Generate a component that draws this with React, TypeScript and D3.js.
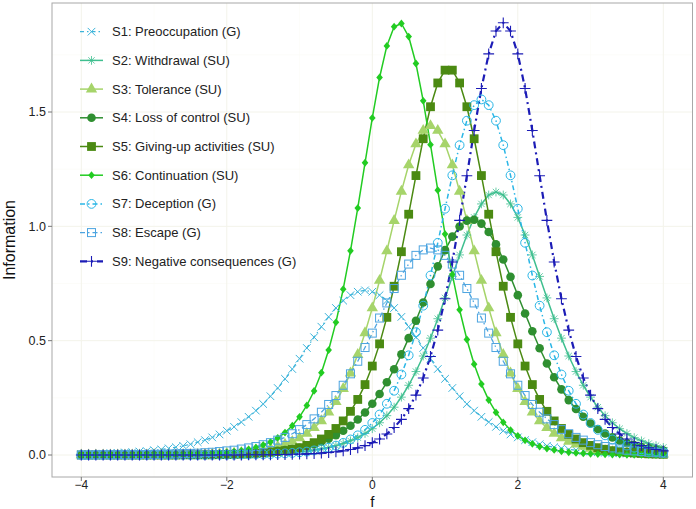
import React from "react";
import * as d3 from "d3";

// theta grid: -4.0 .. 4.0 step 0.1 (81 points)
const theta = d3.range(81).map((i) => +(-4 + i * 0.1).toFixed(1));

const seriesNames = [
  "S1: Preoccupation (G)",
  "S2: Withdrawal (SU)",
  "S3: Tolerance (SU)",
  "S4: Loss of control (SU)",
  "S5: Giving-up activities (SU)",
  "S6: Continuation (SU)",
  "S7: Deception (G)",
  "S8: Escape (G)",
  "S9: Negative consequences (G)",
];

const s1 = [
  0.004, 0.005, 0.005, 0.006, 0.008, 0.009, 0.011, 0.012, 0.015, 0.017,
  0.021, 0.024, 0.029, 0.034, 0.040, 0.047, 0.056, 0.065, 0.077, 0.090,
  0.106, 0.123, 0.144, 0.167, 0.194, 0.223, 0.257, 0.293, 0.333, 0.376,
  0.421, 0.468, 0.515, 0.561, 0.604, 0.643, 0.675, 0.699, 0.714, 0.720,
  0.714, 0.699, 0.675, 0.643, 0.604, 0.561, 0.515, 0.468, 0.421, 0.376,
  0.333, 0.293, 0.257, 0.223, 0.194, 0.167, 0.144, 0.123, 0.106, 0.090,
  0.077, 0.065, 0.056, 0.047, 0.040, 0.034, 0.029, 0.024, 0.021, 0.017,
  0.015, 0.012, 0.011, 0.009, 0.008, 0.006, 0.005, 0.005, 0.004, 0.003,
  0.003,
];
const s2 = [
  0, 0, 0, 0, 0, 0, 0, 0, 0, 0,
  0, 0, 0, 0, 0.001, 0.001, 0.001, 0.001, 0.001, 0.001,
  0.002, 0.002, 0.003, 0.003, 0.004, 0.005, 0.006, 0.007, 0.009, 0.011,
  0.014, 0.017, 0.022, 0.027, 0.033, 0.041, 0.050, 0.062, 0.076, 0.094,
  0.115, 0.141, 0.172, 0.209, 0.253, 0.305, 0.365, 0.433, 0.511, 0.596,
  0.687, 0.781, 0.875, 0.962, 1.039, 1.098, 1.137, 1.150, 1.137, 1.098,
  1.039, 0.962, 0.875, 0.781, 0.687, 0.596, 0.511, 0.433, 0.365, 0.305,
  0.253, 0.209, 0.172, 0.141, 0.115, 0.094, 0.076, 0.062, 0.050, 0.041,
  0.033,
];
const s3 = [
  0, 0, 0, 0, 0, 0, 0, 0, 0, 0,
  0.001, 0.001, 0.001, 0.001, 0.002, 0.002, 0.003, 0.003, 0.004, 0.005,
  0.007, 0.009, 0.011, 0.014, 0.018, 0.023, 0.029, 0.037, 0.047, 0.059,
  0.075, 0.094, 0.119, 0.149, 0.187, 0.233, 0.290, 0.358, 0.439, 0.534,
  0.643, 0.763, 0.892, 1.025, 1.153, 1.268, 1.360, 1.419, 1.440, 1.419,
  1.360, 1.268, 1.153, 1.025, 0.892, 0.763, 0.643, 0.534, 0.439, 0.358,
  0.290, 0.233, 0.187, 0.149, 0.119, 0.094, 0.075, 0.059, 0.047, 0.037,
  0.029, 0.023, 0.018, 0.014, 0.011, 0.009, 0.007, 0.005, 0.004, 0.003,
  0.003,
];
const s4 = [
  0, 0, 0, 0, 0, 0, 0, 0, 0, 0,
  0.001, 0.001, 0.001, 0.001, 0.001, 0.002, 0.002, 0.002, 0.003, 0.003,
  0.004, 0.005, 0.006, 0.008, 0.010, 0.012, 0.014, 0.018, 0.022, 0.026,
  0.032, 0.039, 0.048, 0.059, 0.071, 0.087, 0.106, 0.128, 0.155, 0.186,
  0.224, 0.267, 0.318, 0.375, 0.440, 0.511, 0.587, 0.667, 0.748, 0.825,
  0.896, 0.955, 0.999, 1.025, 1.029, 1.012, 0.975, 0.921, 0.855, 0.779,
  0.699, 0.619, 0.541, 0.467, 0.400, 0.340, 0.287, 0.240, 0.201, 0.167,
  0.138, 0.114, 0.094, 0.077, 0.063, 0.052, 0.043, 0.035, 0.029, 0.023,
  0.019,
];
const s5 = [
  0, 0, 0, 0, 0, 0, 0, 0, 0, 0,
  0, 0, 0, 0, 0.001, 0.001, 0.001, 0.001, 0.001, 0.002,
  0.002, 0.003, 0.004, 0.005, 0.007, 0.009, 0.012, 0.015, 0.019, 0.025,
  0.032, 0.042, 0.054, 0.070, 0.090, 0.116, 0.149, 0.191, 0.243, 0.308,
  0.389, 0.486, 0.602, 0.738, 0.889, 1.053, 1.222, 1.383, 1.523, 1.627,
  1.683, 1.683, 1.627, 1.523, 1.383, 1.222, 1.053, 0.889, 0.738, 0.602,
  0.486, 0.389, 0.308, 0.243, 0.191, 0.149, 0.116, 0.090, 0.070, 0.054,
  0.042, 0.032, 0.025, 0.019, 0.015, 0.012, 0.009, 0.007, 0.005, 0.004,
  0.003,
];
const s6 = [
  0, 0, 0, 0, 0, 0, 0, 0, 0, 0.001,
  0.001, 0.001, 0.001, 0.002, 0.002, 0.003, 0.004, 0.005, 0.006, 0.008,
  0.011, 0.015, 0.019, 0.025, 0.033, 0.044, 0.057, 0.075, 0.098, 0.128,
  0.167, 0.217, 0.280, 0.360, 0.459, 0.580, 0.725, 0.893, 1.080, 1.278,
  1.474, 1.651, 1.789, 1.873, 1.887, 1.830, 1.712, 1.549, 1.357, 1.158,
  0.966, 0.789, 0.635, 0.505, 0.397, 0.310, 0.240, 0.186, 0.143, 0.109,
  0.084, 0.064, 0.049, 0.037, 0.028, 0.022, 0.016, 0.012, 0.009, 0.007,
  0.005, 0.004, 0.003, 0.002, 0.002, 0.001, 0.001, 0.001, 0.001, 0,
  0,
];
const s7 = [
  0, 0, 0, 0, 0, 0, 0, 0, 0, 0,
  0, 0, 0, 0, 0, 0, 0, 0, 0.001, 0.001,
  0.001, 0.001, 0.002, 0.002, 0.003, 0.003, 0.004, 0.006, 0.007, 0.009,
  0.012, 0.015, 0.020, 0.025, 0.032, 0.041, 0.053, 0.068, 0.086, 0.110,
  0.140, 0.177, 0.224, 0.281, 0.352, 0.436, 0.537, 0.653, 0.785, 0.928,
  1.077, 1.223, 1.355, 1.462, 1.530, 1.555, 1.530, 1.462, 1.355, 1.223,
  1.077, 0.928, 0.785, 0.653, 0.537, 0.436, 0.352, 0.281, 0.224, 0.177,
  0.140, 0.110, 0.086, 0.068, 0.053, 0.041, 0.032, 0.025, 0.020, 0.015,
  0.012,
];
const s8 = [
  0, 0, 0.001, 0.001, 0.001, 0.001, 0.001, 0.001, 0.002, 0.002,
  0.003, 0.003, 0.004, 0.005, 0.006, 0.007, 0.008, 0.010, 0.012, 0.015,
  0.018, 0.021, 0.026, 0.031, 0.037, 0.045, 0.054, 0.065, 0.077, 0.093,
  0.111, 0.133, 0.158, 0.187, 0.221, 0.260, 0.305, 0.355, 0.410, 0.470,
  0.533, 0.599, 0.665, 0.728, 0.786, 0.835, 0.873, 0.897, 0.905, 0.897,
  0.873, 0.835, 0.786, 0.728, 0.665, 0.599, 0.533, 0.470, 0.410, 0.355,
  0.305, 0.260, 0.221, 0.187, 0.158, 0.133, 0.111, 0.093, 0.077, 0.065,
  0.054, 0.045, 0.037, 0.031, 0.026, 0.021, 0.018, 0.015, 0.012, 0.010,
  0.008,
];
const s9 = [
  0, 0, 0, 0, 0, 0, 0, 0, 0, 0,
  0, 0, 0, 0, 0, 0, 0, 0, 0, 0,
  0, 0, 0, 0.001, 0.001, 0.001, 0.001, 0.002, 0.002, 0.003,
  0.004, 0.005, 0.006, 0.008, 0.011, 0.014, 0.018, 0.024, 0.031, 0.041,
  0.054, 0.070, 0.092, 0.120, 0.156, 0.203, 0.262, 0.337, 0.431, 0.546,
  0.683, 0.844, 1.026, 1.221, 1.419, 1.603, 1.754, 1.854, 1.890, 1.854,
  1.754, 1.603, 1.419, 1.221, 1.026, 0.844, 0.683, 0.546, 0.431, 0.337,
  0.262, 0.203, 0.156, 0.120, 0.092, 0.070, 0.054, 0.041, 0.031, 0.024,
  0.018,
];

const seriesValues = [s1, s2, s3, s4, s5, s6, s7, s8, s9];

const xTicks = [-4, -2, 0, 2, 4];
const yTicks = [0, 0.5, 1.0, 1.5];
const xTickLabels = ["\u22124", "\u22122", "0", "2", "4"];
const yTickLabels = ["0.0", "0.5", "1.0", "1.5"];

type Style = {
  color: string;
  shape: string;
  dash: string | null;
  width: number;
};

const styles: Style[] = [
  { color: "#3cb4da", shape: "x", dash: "4,3,1.5,3", width: 1.2 },
  { color: "#3fbf8f", shape: "asterisk", dash: null, width: 1.5 },
  { color: "#a6d46a", shape: "triangle", dash: null, width: 1.5 },
  { color: "#2f8f30", shape: "circle", dash: null, width: 1.5 },
  { color: "#4b8a12", shape: "square", dash: null, width: 1.5 },
  { color: "#22cc22", shape: "diamond", dash: null, width: 1.5 },
  { color: "#2ab6e6", shape: "ocircle", dash: "5,3,1.5,3", width: 1.5 },
  { color: "#4ca4e0", shape: "osquare", dash: "5,3,1.5,3", width: 1.3 },
  { color: "#1c1cb6", shape: "plus", dash: "7,4,2,4", width: 2.2 },
];

function Marker({ shape, color, cx, cy }: { shape: string; color: string; cx: number; cy: number }) {
  const t = `translate(${cx},${cy})`;
  switch (shape) {
    case "x": {
      const s = 3.8;
      return <path transform={t} d={`M${-s},${-s}L${s},${s}M${-s},${s}L${s},${-s}`} stroke={color} strokeWidth={1} fill="none" />;
    }
    case "asterisk": {
      const s = 4.4;
      const r = s * 0.72;
      return (
        <path
          transform={t}
          d={`M${-s},0L${s},0M0,${-s}L0,${s}M${-r},${-r}L${r},${r}M${-r},${r}L${r},${-r}`}
          stroke={color}
          strokeWidth={0.8}
          fill="none"
        />
      );
    }
    case "triangle":
      return <path transform={t} d={d3.symbol(d3.symbolTriangle, 56)() as string} fill={color} />;
    case "circle":
      return <circle cx={cx} cy={cy} r={4.3} fill={color} />;
    case "square":
      return <rect x={cx - 4.4} y={cy - 4.4} width={8.8} height={8.8} fill={color} />;
    case "diamond": {
      const w = 3.3, h = 3.9;
      return <path transform={t} d={`M0,${-h}L${w},0L0,${h}L${-w},0Z`} fill={color} />;
    }
    case "ocircle":
      return <circle cx={cx} cy={cy} r={4.4} fill="none" stroke={color} strokeWidth={1} />;
    case "osquare":
      return <rect x={cx - 4} y={cy - 4} width={8} height={8} fill="none" stroke={color} strokeWidth={1} />;
    case "plus": {
      const s = 5.4;
      return <path transform={t} d={`M${-s},0L${s},0M0,${-s}L0,${s}`} stroke={color} strokeWidth={1.1} fill="none" />;
    }
  }
  return null;
}

export default function App() {
  const W = 696, H = 509;
  const panel = { left: 52, right: 692.5, top: 3, bottom: 477 };
  const x = d3.scaleLinear().domain([-4, 4]).range([81.3, 663.3]);
  const y = d3.scaleLinear().domain([0, 1.5]).range([455, 112]);
  const font = "'Liberation Sans', Arial, Helvetica, sans-serif";

  const line = d3
    .line<number>()
    .x((_, i) => x(theta[i]))
    .y((d) => y(d));

  const xMinor = [-3, -1, 1, 3];
  const yMinor = [0.25, 0.75, 1.25, 1.75];

  const legendX = 80, legendY0 = 31.7, legendDy = 28.7;

  return (
    <svg width={W} height={H} style={{ position: "absolute", left: 0, top: 0, background: "#fff" }} fontFamily={font}>
      <rect x={0} y={0} width={W} height={H} fill="#fff" />
      {/* grid */}
      <g>
        {xMinor.map((v) => (
          <line key={"xm" + v} x1={x(v)} x2={x(v)} y1={panel.top} y2={panel.bottom} stroke="#fafaf5" strokeWidth={0.6} />
        ))}
        {yMinor.map((v) => (
          <line key={"ym" + v} x1={panel.left} x2={panel.right} y1={y(v)} y2={y(v)} stroke="#fafaf5" strokeWidth={0.6} />
        ))}
        {xTicks.map((v) => (
          <line key={"xg" + v} x1={x(v)} x2={x(v)} y1={panel.top} y2={panel.bottom} stroke="#f3f3ea" strokeWidth={1} />
        ))}
        {yTicks.map((v) => (
          <line key={"yg" + v} x1={panel.left} x2={panel.right} y1={y(v)} y2={y(v)} stroke="#f3f3ea" strokeWidth={1} />
        ))}
      </g>
      {/* series lines */}
      {seriesValues.map((vals, si) => (
        <path
          key={"l" + si}
          d={line(vals) as string}
          fill="none"
          stroke={styles[si].color}
          strokeWidth={styles[si].width}
          strokeDasharray={styles[si].dash ?? undefined}
          strokeLinejoin="round"
        />
      ))}
      {/* markers */}
      {seriesValues.map((vals, si) => (
        <g key={"m" + si}>
          {vals.map((v, i) => (
            <Marker key={i} shape={styles[si].shape} color={styles[si].color} cx={x(theta[i])} cy={y(v)} />
          ))}
        </g>
      ))}
      {/* panel border */}
      <rect
        x={panel.left}
        y={panel.top}
        width={panel.right - panel.left}
        height={panel.bottom - panel.top}
        fill="none"
        stroke="#a8a8a8"
        strokeWidth={1}
      />
      {/* x axis */}
      {xTicks.map((v, i) => (
        <g key={"xt" + v}>
          <line x1={x(v)} x2={x(v)} y1={panel.bottom} y2={panel.bottom + 4} stroke="#777" />
          <text x={x(v)} y={489} textAnchor="middle" fontSize={12} fill="#222">
            {xTickLabels[i]}
          </text>
        </g>
      ))}
      {/* y axis */}
      {yTicks.map((v, i) => (
        <g key={"yt" + v}>
          <line x1={panel.left - 4} x2={panel.left} y1={y(v)} y2={y(v)} stroke="#777" />
          <text x={panel.left - 6} y={y(v)} dy="0.35em" textAnchor="end" fontSize={12.5} fill="#222">
            {yTickLabels[i]}
          </text>
        </g>
      ))}
      <text x={x(0)} y={507} textAnchor="middle" fontSize={15} fill="#111">
        f
      </text>
      <text
        transform={`translate(15,${(panel.top + panel.bottom) / 2}) rotate(-90)`}
        textAnchor="middle"
        fontSize={16}
        fill="#111"
      >
        Information
      </text>
      {/* legend */}
      {seriesNames.map((name, si) => {
        const cy = legendY0 + si * legendDy;
        const st = styles[si];
        return (
          <g key={"lg" + si}>
            <line
              x1={legendX}
              x2={legendX + 23}
              y1={cy}
              y2={cy}
              stroke={st.color}
              strokeWidth={st.width}
              strokeDasharray={st.dash ?? undefined}
            />
            <Marker shape={st.shape} color={st.color} cx={legendX + 11.5} cy={cy} />
            <text x={112} y={cy} dy="0.35em" fontSize={13} fill="#222">
              {name}
            </text>
          </g>
        );
      })}
    </svg>
  );
}
